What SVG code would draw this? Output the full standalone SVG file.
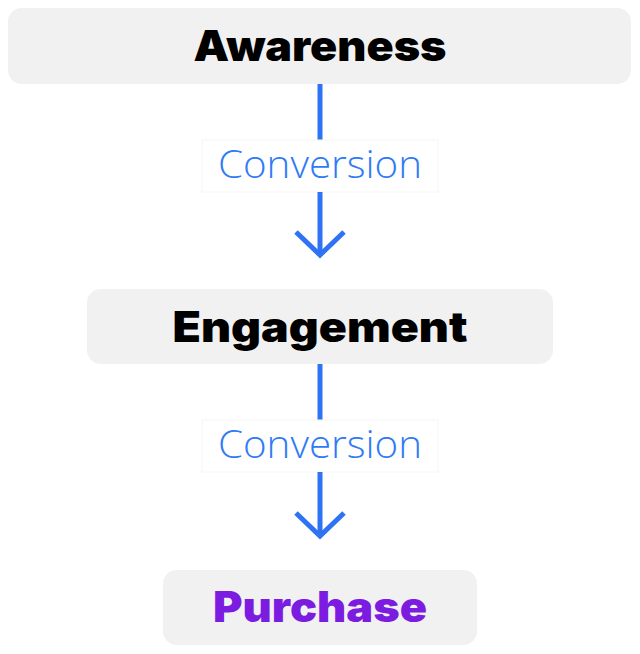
<svg xmlns="http://www.w3.org/2000/svg" width="640" height="654" viewBox="0 0 640 654">
<style>
.box{fill:#f1f1f1}
.t{font-family:Inter,"Open Sans","DejaVu Sans",sans-serif;font-weight:900;font-size:42px;text-anchor:middle}
.lbl{font-family:"Open Sans",Lato,"DejaVu Sans",sans-serif;font-weight:300;font-size:38px;fill:#2f7bf6;text-anchor:middle}
.ln{stroke:#2f73f5;stroke-width:5;fill:none}
.lb{fill:#fff;stroke:#f6f6f6;stroke-width:1}
</style>
<rect width="640" height="654" fill="#fff"/>
<g id="connectors">
<line class="ln" x1="320" y1="84" x2="320" y2="140"/>
<rect class="lb" x="202" y="140" width="236" height="52"/>
<text class="lbl" x="320" y="178" textLength="204" lengthAdjust="spacingAndGlyphs">Conversion</text>
<line class="ln" x1="320" y1="192" x2="320" y2="254"/>
<polyline class="ln" points="296,232 320,255 344,232"/>
<line class="ln" x1="320" y1="364" x2="320" y2="420"/>
<rect class="lb" x="202" y="420" width="236" height="52"/>
<text class="lbl" x="320" y="458" textLength="204" lengthAdjust="spacingAndGlyphs">Conversion</text>
<line class="ln" x1="320" y1="472" x2="320" y2="535"/>
<polyline class="ln" points="296,513 320,536 344,513"/>
</g>
<g id="awareness">
<rect class="box" x="8" y="8" width="623" height="76" rx="14"/>
<text class="t" x="320" y="61" textLength="253" lengthAdjust="spacingAndGlyphs" fill="#000">Awareness</text>
</g>
<g id="engagement">
<rect class="box" x="87" y="289" width="466" height="75" rx="14"/>
<text class="t" x="320" y="342" textLength="295" lengthAdjust="spacingAndGlyphs" fill="#000">Engagement</text>
</g>
<g id="purchase">
<rect class="box" x="163" y="570" width="314" height="75" rx="14"/>
<text class="t" x="320" y="622" textLength="214" lengthAdjust="spacingAndGlyphs" fill="#7b1ce0">Purchase</text>
</g>
</svg>
